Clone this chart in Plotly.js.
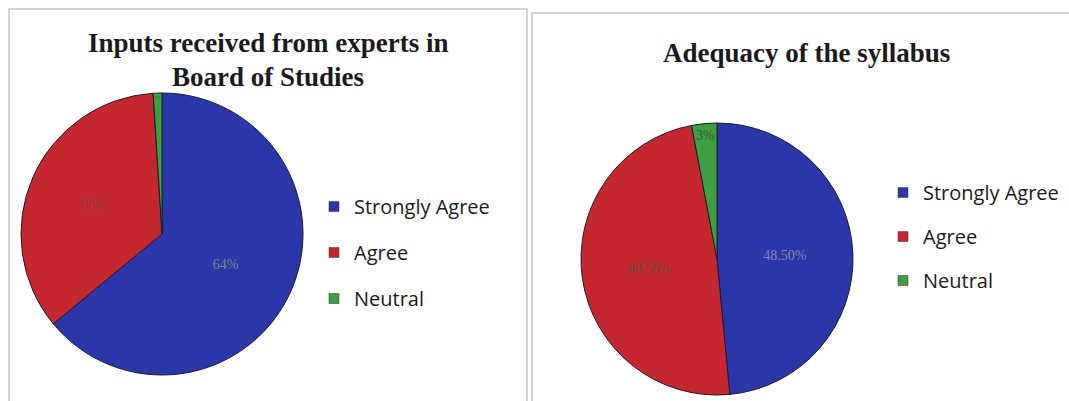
<!DOCTYPE html>
<html>
<head>
<meta charset="utf-8">
<script src="https://cdn.plot.ly/plotly-3.0.1.min.js"></script>
<style>html,body{margin:0;padding:0;background:#fff;}#chart{width:1069px;height:401px;}</style>
</head>
<body>
<div id="chart"></div>
<script>
// Data
const categories = ["Strongly Agree", "Agree", "Neutral"];
const inputsValues = [64, 35, 1];
const inputsLabels = ["64%", "35%", "1%"];
const syllabusValues = [48.5, 48.5, 3];
const syllabusLabels = ["48.50%", "48.50%", "3%"];
const titleInputsLine1 = "Inputs received from experts in";
const titleInputsLine2 = "Board of Studies";
const titleSyllabus = "Adequacy of the syllabus";

// Styles
const sliceColors = ["#2b36a8", "#c4272d", "#3f9e3f"];
const W = 1069, H = 401;
const px = x => x / W;
const py = y => 1 - y / H;

const pieCommon = {
  type: "pie",
  sort: false,
  direction: "clockwise",
  rotation: 0,
  textinfo: "text",
  textposition: "inside",
  insidetextorientation: "horizontal",
  hoverinfo: "label+percent",
  marker: { colors: sliceColors, line: { color: "#1c1c30", width: 1 } },
  showlegend: false
};

const pieLeft = Object.assign({}, pieCommon, {
  labels: categories,
  values: inputsValues,
  text: inputsLabels,
  textfont: { family: "Liberation Serif", size: 14, color: ["#6f8a78", "#8a4444", "#3a5a3a"] },
  domain: { x: [px(21), px(303)], y: [py(375), py(93)] }
});

const pieRight = Object.assign({}, pieCommon, {
  labels: categories,
  values: syllabusValues,
  text: syllabusLabels,
  textfont: { family: "Liberation Serif", size: 14, color: ["#7f8ca8", "#6a4646", "#3a5a3a"] },
  domain: { x: [px(581), px(853)], y: [py(395), py(123)] }
});

// Legend entries (dummy traces, one per category, for item spacing)
const legendTraces = [];
["legend", "legend2"].forEach((lg, li) => {
  categories.forEach((c, i) => {
    legendTraces.push({
      type: "scatter", mode: "markers", x: [null], y: [null],
      name: c, legend: lg, legendgroup: lg + i,
      marker: { symbol: "square", size: 10, color: sliceColors[i], line: { color: "#333", width: 0.5 } },
      hoverinfo: "skip", xaxis: "x", yaxis: "y"
    });
  });
});

const legendFont = { family: "'Open Sans', sans-serif", size: 20, color: "#1a1a1a" };

const layout = {
  width: W, height: H,
  margin: { l: 0, r: 0, t: 0, b: 0 },
  paper_bgcolor: "#ffffff",
  plot_bgcolor: "rgba(0,0,0,0)",
  xaxis: { visible: false, range: [0, 1] },
  yaxis: { visible: false, range: [0, 1] },
  legend: {
    x: px(314), y: py(187), xanchor: "left", yanchor: "top",
    traceorder: "grouped", tracegroupgap: 17,
    font: legendFont, bgcolor: "rgba(0,0,0,0)"
  },
  legend2: {
    x: px(883), y: py(173), xanchor: "left", yanchor: "top",
    traceorder: "grouped", tracegroupgap: 15,
    font: legendFont, bgcolor: "rgba(0,0,0,0)"
  },
  shapes: [
    { type: "rect", xref: "paper", yref: "paper", x0: px(9), x1: px(527), y0: py(410), y1: py(9),
      line: { color: "#c4c4c4", width: 1.5 } },
    { type: "rect", xref: "paper", yref: "paper", x0: px(532), x1: px(1080), y0: py(410), y1: py(13),
      line: { color: "#c4c4c4", width: 1.5 } }
  ],
  annotations: [
    { text: "<b>" + titleInputsLine1 + "</b>", xref: "paper", yref: "paper", x: px(268), y: py(43),
      xanchor: "center", yanchor: "middle", showarrow: false,
      font: { family: "Liberation Serif", size: 27, color: "#1a1a1a" } },
    { text: "<b>" + titleInputsLine2 + "</b>", xref: "paper", yref: "paper", x: px(268), y: py(77),
      xanchor: "center", yanchor: "middle", showarrow: false,
      font: { family: "Liberation Serif", size: 27, color: "#1a1a1a" } },
    { text: "<b>" + titleSyllabus + "</b>", xref: "paper", yref: "paper", x: px(806), y: py(53),
      xanchor: "center", yanchor: "middle", showarrow: false,
      font: { family: "Liberation Serif", size: 27, color: "#1a1a1a" } }
  ]
};

Plotly.newPlot("chart", [pieLeft, pieRight].concat(legendTraces), layout, { displayModeBar: false, staticPlot: true });
</script>
</body>
</html>
